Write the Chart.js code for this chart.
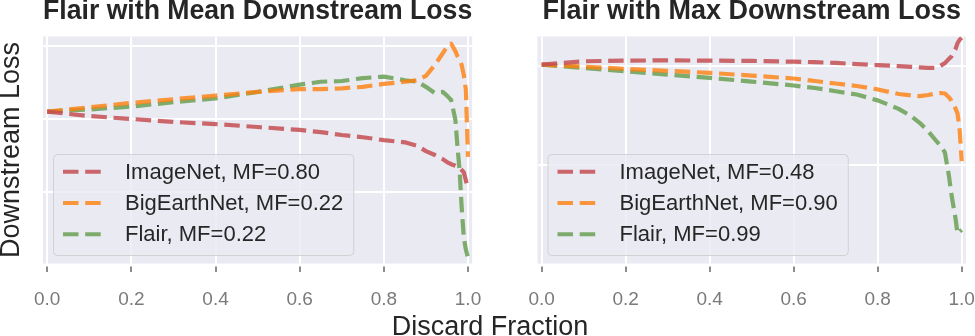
<!DOCTYPE html>
<html>
<head>
<meta charset="utf-8">
<script src="https://cdn.jsdelivr.net/npm/chart.js@4.4.1/dist/chart.umd.min.js"></script>
<style>
  body { margin: 0; background: #fff; width: 975px; height: 336px; overflow: hidden; position: relative;
         font-family: "Liberation Sans", Arial, sans-serif; }
  canvas { position: absolute; top: 0; }
  #left { left: 0; }
  #right { left: 490px; }
  #xlabel { position: absolute; left: 0; width: 980px; top: 313px; text-align: center;
            font-size: 27px; line-height: 27px; color: #262626; }
</style>
</head>
<body>
<canvas id="left" width="490" height="336"></canvas>
<canvas id="right" width="485" height="336"></canvas>
<div id="xlabel">Discard Fraction</div>
<script>
// ---- data ----
const discard = [0, 0.1, 0.2, 0.3, 0.4, 0.5, 0.6, 0.65, 0.7, 0.75, 0.8, 0.85, 0.88, 0.9,
                 0.92, 0.94, 0.95, 0.96, 0.97, 0.975, 0.98, 0.985, 0.99, 0.995, 1.0];
const xTicks = [0, 0.2, 0.4, 0.6, 0.8, 1.0];

const meanImageNet = [0.910, 0.904, 0.900, 0.896, 0.893, 0.889, 0.885, 0.882, 0.878, 0.875, 0.871, 0.868, 0.863,
                      0.856, 0.851, 0.845, 0.841, 0.838, 0.836, 0.834, 0.833, 0.830, 0.827, 0.816, 0.803];
const meanBigEarth = [0.910, 0.916, 0.922, 0.927, 0.932, 0.937, 0.941, 0.941, 0.942, 0.944, 0.948, 0.951, 0.953,
                      0.959, 0.973, 0.990, 0.999, 1.003, 0.993, 0.986, 0.981, 0.974, 0.960, 0.940, 0.848];
const meanFlair    = [0.910, 0.913, 0.917, 0.923, 0.928, 0.937, 0.947, 0.951, 0.952, 0.956, 0.958, 0.953, 0.951,
                      0.944, 0.936, 0.937, 0.932, 0.926, 0.899, 0.862, 0.830, 0.779, 0.738, 0.721, 0.710];
const meanLabels = ['ImageNet, MF=0.80', 'BigEarthNet, MF=0.22', 'Flair, MF=0.22'];
const meanGrid = [0.8, 0.9, 1.0];

const maxImageNet = [1.0017, 1.0051, 1.0058, 1.0060, 1.0058, 1.0055, 1.0047, 1.0042, 1.0034, 1.0022, 1.0012, 1.0002, 0.9995,
                     0.9990, 0.9985, 0.9984, 1.0007, 1.0032, 1.0078, 1.0098, 1.0138, 1.0174, 1.0234, 1.0270, 1.0290];
const maxBigEarth = [1.0017, 0.9997, 0.9974, 0.9954, 0.9933, 0.9906, 0.9876, 0.9851, 0.9825, 0.9800, 0.9765, 0.9719, 0.9704,
                     0.9697, 0.9709, 0.9724, 0.9729, 0.9724, 0.9684, 0.9653, 0.9613, 0.9573, 0.9522, 0.9361, 0.9037];
const maxFlair    = [1.0017, 0.9982, 0.9949, 0.9916, 0.9883, 0.9845, 0.9805, 0.9780, 0.9747, 0.9714, 0.9654, 0.9568, 0.9492,
                     0.9426, 0.9342, 0.9239, 0.9189, 0.9126, 0.8876, 0.8714, 0.8584, 0.8463, 0.8300, 0.8320, 0.8340];
const maxLabels = ['ImageNet, MF=0.48', 'BigEarthNet, MF=0.90', 'Flair, MF=0.99'];
const maxGrid = [0.9, 1.0];

const colors = ['rgba(196,78,82,0.85)', 'rgba(255,127,14,0.8)', 'rgba(106,160,84,0.85)'];
const dash = [15.5, 6.7];

Chart.defaults.font.family = '"Liberation Sans", Arial, sans-serif';
Chart.defaults.color = '#262626';

// gray axes face
const facePlugin = {
    id: 'face',
    beforeDraw(chart) {
        const a = chart.chartArea, ctx = chart.ctx;
        ctx.save();
        ctx.fillStyle = '#EAEAF2';
        ctx.fillRect(a.left, a.top, a.right - a.left, a.bottom - a.top);
        ctx.restore();
    }
};

// small tick marks under the x axis
const tickMarks = {
    id: 'tickMarks',
    afterDraw(chart) {
        const sc = chart.scales.x, ctx = chart.ctx, b = chart.chartArea.bottom;
        ctx.save();
        ctx.strokeStyle = '#666';
        ctx.lineWidth = 1.5;
        sc.ticks.forEach(t => {
            const px = Math.round(sc.getPixelForValue(t.value));
            ctx.beginPath();
            ctx.moveTo(px, b + 3);
            ctx.lineTo(px, b + 8.5);
            ctx.stroke();
        });
        ctx.restore();
    }
};

// matplotlib-like legend box, lower left
const legendBox = {
    id: 'legendBox',
    afterDatasetsDraw(chart) {
        const a = chart.chartArea, ctx = chart.ctx;
        const sets = chart.data.datasets;
        const rowH = 31.3;
        ctx.save();
        ctx.font = '22px "Liberation Sans", Arial, sans-serif';
        const textW = Math.max(...sets.map(d => ctx.measureText(d.label).width));
        const w = 10 + 44 + 18 + textW + 10;
        const h = 2 + sets.length * rowH + 5.1;
        const x = a.left + 10;
        const y = a.bottom - 8.5 - h;

        ctx.beginPath();
        ctx.roundRect(x + 0.5, y + 0.5, w, h, 4);
        ctx.fillStyle = 'rgba(234,234,242,0.8)';
        ctx.fill();
        ctx.strokeStyle = 'rgba(204,204,204,0.8)';
        ctx.lineWidth = 1;
        ctx.stroke();

        sets.forEach((d, i) => {
            const cy = y + 2 + rowH * (i + 0.5);
            ctx.beginPath();
            ctx.setLineDash(dash);
            ctx.lineCap = 'butt';
            ctx.lineWidth = 4;
            ctx.strokeStyle = d.borderColor;
            ctx.moveTo(x + 10, cy);
            ctx.lineTo(x + 54, cy);
            ctx.stroke();
            ctx.setLineDash([]);
            ctx.fillStyle = '#262626';
            ctx.textBaseline = 'middle';
            ctx.textAlign = 'left';
            ctx.fillText(d.label, x + 72, cy + 1);
        });
        ctx.restore();
    }
};

function series(label, values, color) {
    return {
        label,
        data: discard.map((x, i) => ({ x, y: values[i] })),
        borderColor: color,
        borderWidth: 4.2,
        borderDash: dash,
        borderCapStyle: 'butt',
        borderJoinStyle: 'round',
        pointRadius: 0,
        tension: 0,
        fill: false
    };
}

function makeChart(id, cfg) {
    return new Chart(document.getElementById(id), {
        type: 'line',
        data: {
            datasets: cfg.values.map((v, i) => series(cfg.labels[i], v, colors[i]))
        },
        options: {
            responsive: false,
            animation: false,
            devicePixelRatio: 1,
            layout: { padding: { left: 0, right: cfg.padRight, top: 0, bottom: 0 } },
            plugins: {
                legend: { display: false },
                tooltip: { enabled: false },
                title: {
                    display: true,
                    text: cfg.title,
                    fullSize: false,
                    color: '#262626',
                    font: { size: 27, weight: 'bold', lineHeight: 0.84 },
                    padding: { top: 0, bottom: 13.8 }
                }
            },
            scales: {
                x: {
                    type: 'linear',
                    min: -0.01,
                    max: 1.01,
                    afterBuildTicks: s => { s.ticks = xTicks.map(v => ({ value: v })); },
                    afterFit: s => { s.height = 72.5; s.paddingLeft = 0; s.paddingRight = 0; },
                    ticks: {
                        color: '#7a7a7a',
                        font: { size: 19 },
                        padding: 24.6,
                        maxRotation: 0,
                        autoSkip: false,
                        callback: v => Number(v).toFixed(1)
                    },
                    grid: { color: '#ffffff', lineWidth: 2, drawTicks: false },
                    border: { display: false }
                },
                y: {
                    type: 'linear',
                    min: cfg.yMin,
                    max: cfg.yMax,
                    afterBuildTicks: s => { s.ticks = cfg.grid.map(v => ({ value: v })); },
                    afterFit: s => { s.width = cfg.axisWidth; },
                    ticks: { display: false },
                    grid: { color: '#ffffff', lineWidth: 2, drawTicks: false },
                    border: { display: false },
                    title: {
                        display: cfg.yTitle !== '',
                        text: cfg.yTitle,
                        color: '#262626',
                        font: { size: 27, lineHeight: 0.86 },
                        padding: 0
                    }
                }
            }
        },
        plugins: [facePlugin, tickMarks, legendBox]
    });
}

makeChart('left', {
    title: 'Flair with Mean Downstream Loss',
    values: [meanImageNet, meanBigEarth, meanFlair],
    labels: meanLabels,
    grid: meanGrid,
    yMin: 0.702,
    yMax: 1.013,
    axisWidth: 43,
    padRight: 17.8,
    yTitle: 'Downstream Loss'
});

makeChart('right', {
    title: 'Flair with Max Downstream Loss',
    values: [maxImageNet, maxBigEarth, maxFlair],
    labels: maxLabels,
    grid: maxGrid,
    yMin: 0.7997,
    yMax: 1.0303,
    axisWidth: 47.5,
    padRight: 9.1,
    yTitle: ''
});
</script>
</body>
</html>
